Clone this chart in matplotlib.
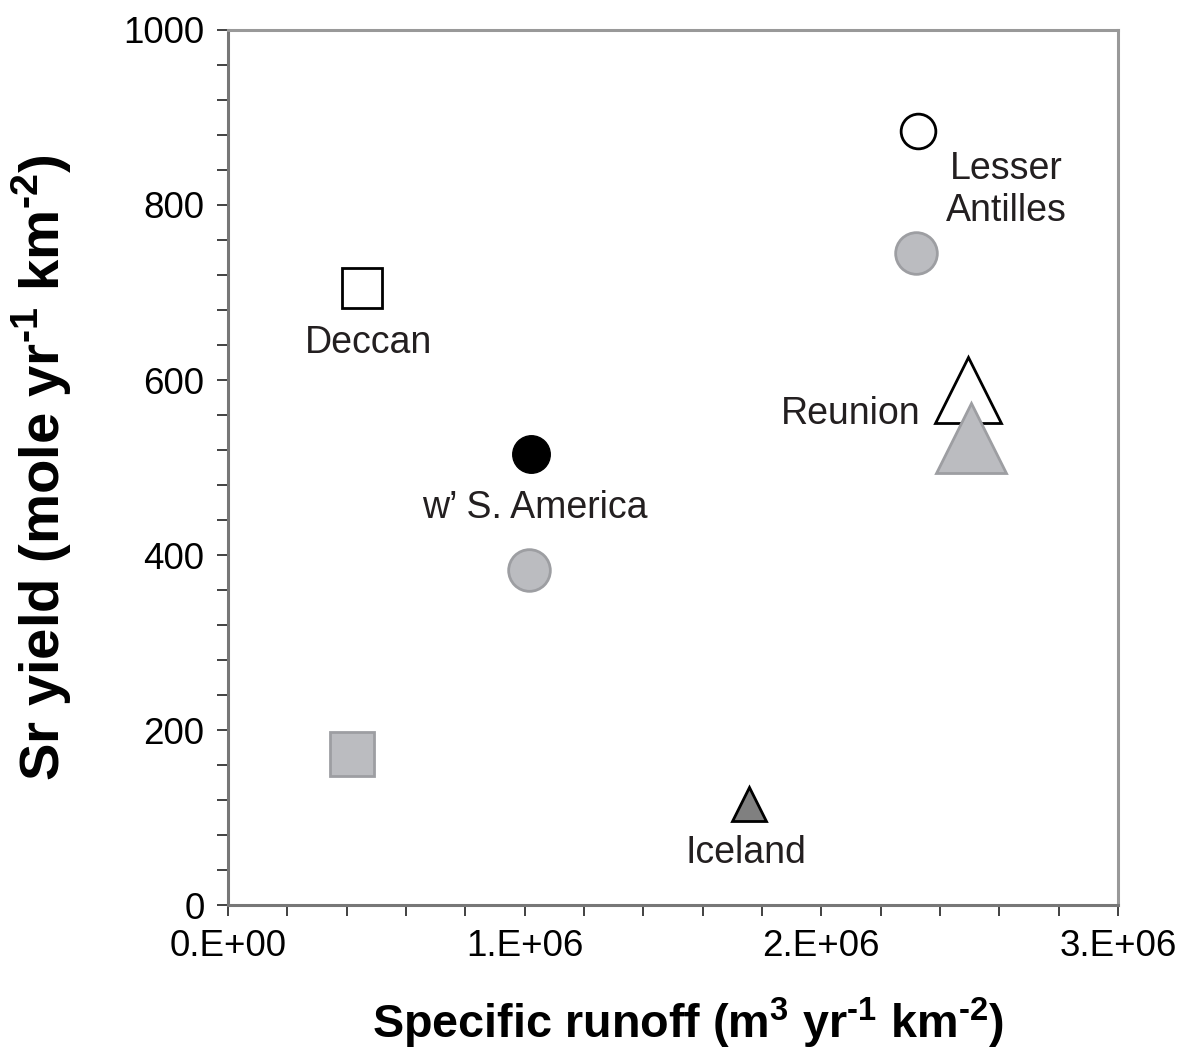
import numpy as np
import matplotlib
matplotlib.use("Agg")
import matplotlib.pyplot as plt
from matplotlib.ticker import MultipleLocator, FuncFormatter

plt.rcParams['font.family'] = ['Liberation Sans', 'DejaVu Sans']
plt.rcParams['mathtext.fontset'] = 'custom'
plt.rcParams['mathtext.rm'] = 'Liberation Sans:bold'
plt.rcParams['mathtext.bf'] = 'Liberation Sans:bold'

# data (runoff m3/yr/km2, Sr yield mole/yr/km2)
deccan_x = [0.452e6, 0.418e6]
deccan_y = [705, 173]
samerica_x = [1.021e6, 1.015e6]
samerica_y = [515, 383]
antilles_x = [2.326e6, 2.319e6]
antilles_y = [885, 745]
reunion_x = [2.496e6, 2.505e6]
reunion_y = [589, 534]
iceland_x = [1.756e6]
iceland_y = [115]

labels = ["Lesser\nAntilles", "Deccan", "w\u2019 S. America", "Reunion", "Iceland"]
label_x = [2.622e6, 0.472e6, 1.035e6, 2.10e6, 1.746e6]
label_y = [817, 642, 454, 561, 59]

gray_fill = '#bbbcc0'
gray_edge = '#9d9ea2'
txt = '#231f20'

fig = plt.figure(figsize=(11.97, 10.63), dpi=100)
ax = fig.add_axes([0.1905, 0.1486, 0.7435, 0.8232])

# open symbols (first) and gray symbols (second)
ax.plot(deccan_x[0], deccan_y[0], 's', ms=29, mfc='white', mec='black', mew=2)
ax.plot(deccan_x[1], deccan_y[1], 's', ms=32, mfc=gray_fill, mec=gray_edge, mew=2)
ax.plot(samerica_x[0], samerica_y[0], 'o', ms=27, mfc='black', mec='black', mew=1)
ax.plot(samerica_x[1], samerica_y[1], 'o', ms=30, mfc=gray_fill, mec=gray_edge, mew=2)
ax.plot(antilles_x[0], antilles_y[0], 'o', ms=25, mfc='white', mec='black', mew=2)
ax.plot(antilles_x[1], antilles_y[1], 'o', ms=30, mfc=gray_fill, mec=gray_edge, mew=2)
ax.plot(reunion_x[0], reunion_y[0], '^', ms=47, mfc='white', mec='black', mew=2)
ax.plot(reunion_x[1], reunion_y[1], '^', ms=51, mfc=gray_fill, mec=gray_edge, mew=2)
ax.plot(iceland_x[0], iceland_y[0], '^', ms=25, mfc='#808080', mec='black', mew=2)

for lab, lx, ly in zip(labels, label_x, label_y):
    ax.text(lx, ly, lab, ha='center', va='center', fontsize=27, color=txt,
            linespacing=1.2)

ax.set_xlim(0, 3e6)
ax.set_ylim(0, 1000)
ax.xaxis.set_major_locator(MultipleLocator(1e6))
ax.xaxis.set_minor_locator(MultipleLocator(0.2e6))
ax.yaxis.set_major_locator(MultipleLocator(200))
ax.yaxis.set_minor_locator(MultipleLocator(40))
ax.xaxis.set_major_formatter(FuncFormatter(
    lambda v, p: "%d.E+%02d" % (round(v / 10 ** int(np.log10(v))), int(np.log10(v))) if v > 0 else "0.E+00"))

ax.tick_params(which='both', direction='out', length=8, width=1.3, color='#333333',
               labelsize=26.5, labelcolor='black', pad=9)
for s in ['left', 'bottom']:
    ax.spines[s].set_color('#777777')
    ax.spines[s].set_linewidth(2.2)
for s in ['top', 'right']:
    ax.spines[s].set_color('#999999')
    ax.spines[s].set_linewidth(2.2)

xlab = r'Specific runoff (m$^{3}$ yr$^{\text{-}1}$ km$^{\text{-}2}$)'
ylab = r'Sr yield (mole yr$^{\text{-}1}$ km$^{\text{-}2}$)'
fig.text(0.575, 0.037, xlab, ha='center', va='center', fontsize=33.7, fontweight='bold')
fig.text(0.035, 0.560, ylab, ha='center', va='center', rotation=90, fontsize=40.5,
         fontweight='bold')

fig.savefig('out.png', dpi=100)
